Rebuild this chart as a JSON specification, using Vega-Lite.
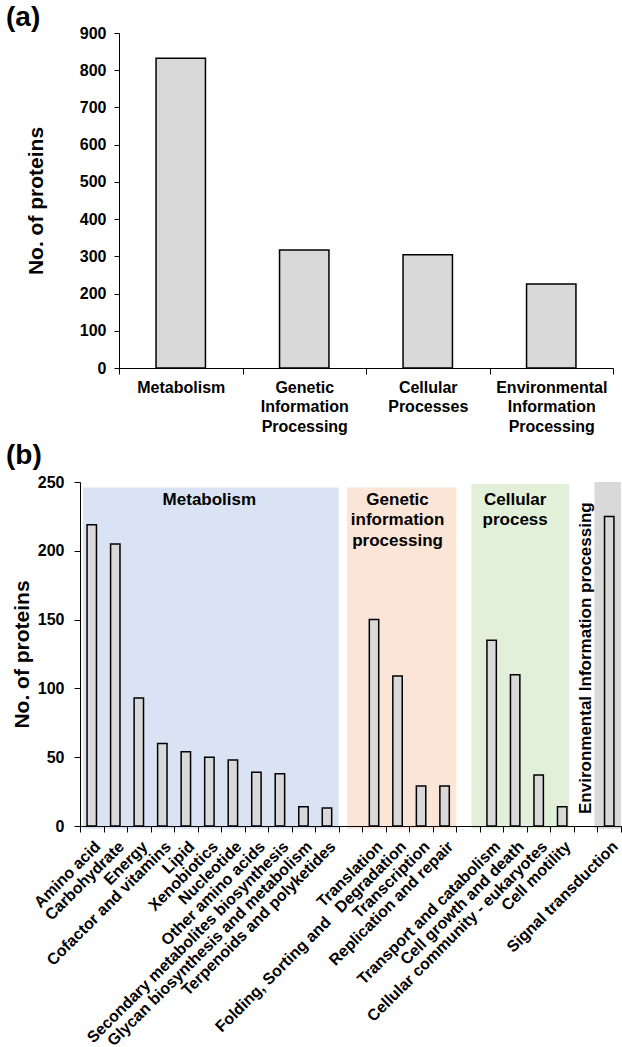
{
  "$schema": "https://vega.github.io/schema/vega-lite/v6.json",
  "background": "white",
  "padding": {"left": 6, "top": 4, "right": 0, "bottom": 0},
  "spacing": 8,
  "config": {
    "font": "Liberation Sans",
    "view": {"stroke": null},
    "axis": {
      "labelFontWeight": "bold",
      "labelColor": "#000",
      "titleFontWeight": "bold",
      "titleColor": "#000",
      "domainColor": "#000",
      "tickColor": "#000",
      "grid": false
    },
    "title": {"fontWeight": "bold", "fontSize": 28, "color": "#000", "anchor": "start", "frame": "group", "offset": 0, "baseline": "bottom"}
  },
  "datasets": {
    "level1": [
      {"category": "Metabolism", "count": 832},
      {"category": "Genetic Information Processing", "count": 317},
      {"category": "Cellular Processes", "count": 304},
      {"category": "Environmental Information Processing", "count": 226}
    ],
    "level2": [
      {"category": "Amino acid", "group": "Metabolism", "count": 219},
      {"category": "Carbohydrate", "group": "Metabolism", "count": 205},
      {"category": "Energy", "group": "Metabolism", "count": 93},
      {"category": "Cofactor and vitamins", "group": "Metabolism", "count": 60},
      {"category": "Lipid", "group": "Metabolism", "count": 54},
      {"category": "Xenobiotics", "group": "Metabolism", "count": 50},
      {"category": "Nucleotide", "group": "Metabolism", "count": 48},
      {"category": "Other amino acids", "group": "Metabolism", "count": 39},
      {"category": "Secondary metabolites biosynthesis", "group": "Metabolism", "count": 38},
      {"category": "Glycan biosynthesis and metabolism", "group": "Metabolism", "count": 14},
      {"category": "Terpenoids and polyketides", "group": "Metabolism", "count": 13},
      {"category": "Translation", "group": "Genetic information processing", "count": 150},
      {"category": "Folding, Sorting and Degradation", "group": "Genetic information processing", "count": 109},
      {"category": "Transcription", "group": "Genetic information processing", "count": 29},
      {"category": "Replication and repair", "group": "Genetic information processing", "count": 29},
      {"category": "Transport and catabolism", "group": "Cellular process", "count": 135},
      {"category": "Cell growth and death", "group": "Cellular process", "count": 110},
      {"category": "Cellular community - eukaryotes", "group": "Cellular process", "count": 37},
      {"category": "Cell motility", "group": "Cellular process", "count": 14},
      {"category": "Signal transduction", "group": "Environmental Information processing", "count": 225}
    ],
    "groups": [
      {"group": "Metabolism", "first": "Amino acid", "last": "Terpenoids and polyketides", "top": 246, "labelAt": "Xenobiotics", "label": ["Metabolism"]},
      {"group": "Genetic information processing", "first": "gap1", "last": "Replication and repair", "top": 246, "labelAt": "Folding, Sorting and Degradation", "label": ["Genetic", "information", "processing"]},
      {"group": "Cellular process", "first": "gap2", "last": "Cell motility", "top": 248.5, "labelAt": "Cell growth and death", "label": ["Cellular", "process"]},
      {"group": "Environmental Information processing", "first": "gap3", "last": "Signal transduction", "top": 250, "labelAt": "gap3", "label": ["Environmental Information processing"]}
    ]
  },
  "vconcat": [
    {
      "title": {"text": "(a)", "dx": -74, "dy": 11},
      "width": 533,
      "height": 335,
      "data": {"name": "level1"},
      "mark": {"type": "bar", "width": {"band": 0.4}, "fill": "#d9d9d9", "stroke": "#000", "strokeWidth": 1.5},
      "encoding": {
        "x": {
          "field": "category", "type": "nominal", "sort": null,
          "scale": {"paddingInner": 0, "paddingOuter": 0, "range": [39, 533]},
          "axis": {"title": null, "labelAngle": 0, "tickBand": "extent", "labelExpr": "isString(datum.value) ? split(datum.value, ' ') : ''", "labelLineHeight": 19.5, "labelFontSize": 16, "tickSize": 6, "labelPadding": 5, "labelLimit": 300}
        },
        "y": {
          "field": "count", "type": "quantitative",
          "scale": {"domain": [0, 900], "nice": false},
          "axis": {"title": "No. of proteins", "offset": -39, "values": [0, 100, 200, 300, 400, 500, 600, 700, 800, 900], "titleFontSize": 21, "labelFontSize": 16, "tickSize": 5, "labelPadding": 8, "titlePadding": 33}
        }
      }
    },
    {
      "title": {"text": "(b)", "dx": -74, "dy": 0},
      "width": 541,
      "height": 344,
      "layer": [
        {
          "data": {"name": "groups"},
          "transform": [{"filter": "datum.group == 'Metabolism'"}],
          "mark": {"type": "rect", "fill": "#dae3f3"},
          "encoding": {
            "x": {"field": "first", "type": "nominal", "bandPosition": 0.13, "title": null},
            "x2": {"field": "last", "bandPosition": 1},
            "y": {"field": "top", "type": "quantitative", "title": "No. of proteins"},
            "y2": {"datum": -2}
          }
        },
        {
          "data": {"name": "groups"},
          "transform": [{"filter": "datum.group == 'Genetic information processing'"}],
          "mark": {"type": "rect", "fill": "#fbe5d6"},
          "encoding": {
            "x": {"field": "first", "type": "nominal", "bandPosition": 0.36, "title": null},
            "x2": {"field": "last", "bandPosition": 1},
            "y": {"field": "top", "type": "quantitative", "title": "No. of proteins"},
            "y2": {"datum": -2}
          }
        },
        {
          "data": {"name": "groups"},
          "transform": [{"filter": "datum.group == 'Cellular process'"}],
          "mark": {"type": "rect", "fill": "#e2f0d9"},
          "encoding": {
            "x": {"field": "first", "type": "nominal", "bandPosition": 0.64, "title": null},
            "x2": {"field": "last", "bandPosition": 0.8},
            "y": {"field": "top", "type": "quantitative", "title": "No. of proteins"},
            "y2": {"datum": -2}
          }
        },
        {
          "data": {"name": "groups"},
          "transform": [{"filter": "datum.group == 'Environmental Information processing'"}],
          "mark": {"type": "rect", "fill": "#d9d9d9"},
          "encoding": {
            "x": {"field": "first", "type": "nominal", "bandPosition": 0.87, "title": null},
            "x2": {"field": "last", "bandPosition": 1},
            "y": {"field": "top", "type": "quantitative", "title": "No. of proteins"},
            "y2": {"datum": -2}
          }
        },
        {
          "data": {"name": "groups"},
          "transform": [{"filter": "datum.group != 'Environmental Information processing'"}],
          "mark": {"type": "text", "fontWeight": "bold", "fontSize": 17, "baseline": "top", "align": "center", "lineHeight": 20.5, "color": "#000"},
          "encoding": {
            "x": {"field": "labelAt", "type": "nominal", "title": null},
            "y": {"datum": 243, "title": "No. of proteins"},
            "text": {"field": "label"}
          }
        },
        {
          "data": {"name": "groups"},
          "transform": [{"filter": "datum.group == 'Environmental Information processing'"}],
          "mark": {"type": "text", "fontWeight": "bold", "fontSize": 17, "baseline": "middle", "align": "center", "angle": 270, "color": "#000"},
          "encoding": {
            "x": {"field": "labelAt", "type": "nominal", "title": null},
            "y": {"datum": 122, "title": "No. of proteins"},
            "text": {"field": "group"}
          }
        },
        {
          "data": {"name": "level2"},
          "mark": {"type": "bar", "width": {"band": 0.4}, "fill": "#d9d9d9", "stroke": "#000", "strokeWidth": 1.5},
          "encoding": {
            "x": {
              "field": "category", "type": "nominal", "title": null,
              "scale": {
                "domain": ["Amino acid", "Carbohydrate", "Energy", "Cofactor and vitamins", "Lipid", "Xenobiotics", "Nucleotide", "Other amino acids", "Secondary metabolites biosynthesis", "Glycan biosynthesis and metabolism", "Terpenoids and polyketides", "gap1", "Translation", "Folding, Sorting and Degradation", "Transcription", "Replication and repair", "gap2", "Transport and catabolism", "Cell growth and death", "Cellular community - eukaryotes", "Cell motility", "gap3", "Signal transduction"],
                "paddingInner": 0, "paddingOuter": 0
              },
              "axis": {"labelAngle": -45, "labelAlign": "right", "labelBaseline": "top", "tickBand": "extent", "labelFontSize": 16, "tickSize": 6, "labelPadding": 6, "labelLimit": 400,
                "labelExpr": "!isString(datum.value) || datum.value == 'gap1' || datum.value == 'gap2' || datum.value == 'gap3' ? '' : replace(datum.value, 'and Degradation', 'and\u00a0\u00a0 Degradation')"}
            },
            "y": {
              "field": "count", "type": "quantitative", "title": "No. of proteins",
              "scale": {"domain": [0, 250], "nice": false},
              "axis": {"values": [0, 50, 100, 150, 200, 250], "titleFontSize": 21, "labelFontSize": 16, "tickSize": 6, "labelPadding": 10, "titlePadding": 5}
            }
          }
        }
      ]
    }
  ]
}
